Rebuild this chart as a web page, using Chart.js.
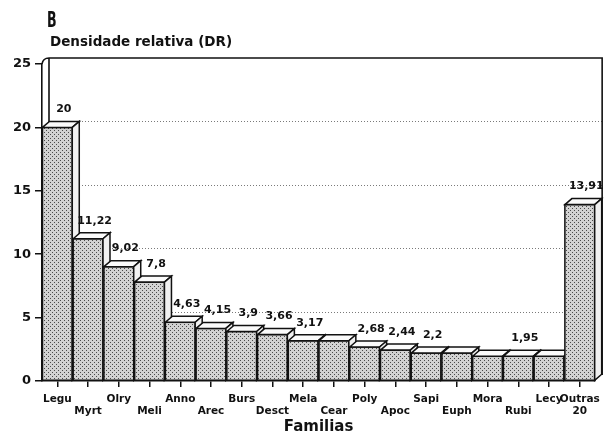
<!DOCTYPE html>
<html><head><meta charset="utf-8">
<script src="https://cdn.jsdelivr.net/npm/chart.js@4"></script>
<style>html,body{margin:0;padding:0;background:#fff}#c{display:block}</style>
</head><body>
<canvas id="c" width="606" height="439"></canvas>
<script>
const categories = ['Legu','Myrt','Olry','Meli','Anno','Arec','Burs','Desct','Mela','Cear','Poly','Apoc','Sapi','Euph','Mora','Rubi','Lecy','Outras 20'];
const tickLabels = [['Legu',''],['','Myrt'],['Olry',''],['','Meli'],['Anno',''],['','Arec'],['Burs',''],['','Desct'],['Mela',''],['','Cear'],['Poly',''],['','Apoc'],['Sapi',''],['','Euph'],['Mora',''],['','Rubi'],['Lecy',''],['Outras','20']];
const values = [20,11.22,9.02,7.8,4.63,4.15,3.9,3.66,3.17,3.17,2.68,2.44,2.2,2.2,1.95,1.95,1.95,13.91];
const valueLabels = ['20','11,22','9,02','7,8','4,63','4,15','3,9','3,66','3,17','','2,68','2,44','2,2','','','1,95','','13,91'];
const yMin = 0, yMax = 25, yStep = 5;
const gridValues = [5,10,15,20];
const titleText = 'B';
const subtitleText = 'Densidade relativa (DR)';
const xTitle = 'Familias';

const DX = 7, DY = 6;
const canvas = document.getElementById('c');
const ctx0 = canvas.getContext('2d');
const pc = document.createElement('canvas'); pc.width = 4; pc.height = 4;
const pg = pc.getContext('2d');
pg.fillStyle = '#d2d2d2'; pg.fillRect(0,0,4,4);
pg.fillStyle = '#4a4a4a'; pg.fillRect(0,0,1,1); pg.fillRect(2,2,1,1);
const pattern = ctx0.createPattern(pc, 'repeat');

const bar3d = {
  id: 'bar3d',
  beforeDatasetsDraw(chart) {
    const ctx = chart.ctx, a = chart.chartArea, ys = chart.scales.y;
    ctx.save();
    ctx.strokeStyle = '#7a7a7a'; ctx.lineWidth = 1; ctx.setLineDash([1,2]);
    gridValues.forEach(v => {
      const yy = Math.round(ys.getPixelForValue(v) - DY) + 0.5;
      ctx.beginPath(); ctx.moveTo(a.left + DX, yy); ctx.lineTo(a.right + DX, yy); ctx.stroke();
    });
    ctx.setLineDash([]);
    const yTop = ys.getPixelForValue(yMax), yBot = ys.getPixelForValue(yMin);
    ctx.strokeStyle = '#111'; ctx.lineWidth = 1.6;
    ctx.beginPath();
    ctx.moveTo(a.left, yTop);
    ctx.quadraticCurveTo(a.left + 1, yTop - DY, a.left + DX, yTop - DY);
    ctx.lineTo(a.right + DX, yTop - DY);
    ctx.lineTo(a.right + DX, yBot - DY);
    ctx.moveTo(a.left + DX, yTop - DY);
    ctx.lineTo(a.left + DX, yBot - DY);
    ctx.stroke();
    ctx.restore();
  },
  afterDatasetsDraw(chart) {
    const ctx = chart.ctx;
    const meta = chart.getDatasetMeta(0);
    ctx.save();
    ctx.lineJoin = 'miter';
    ctx.strokeStyle = '#111'; ctx.lineWidth = 1.5;
    meta.data.forEach((el, i) => {
      const p = el.getProps(['x','y','base','width'], true);
      const l = p.x - p.width/2, r = p.x + p.width/2, t = p.y, b = p.base;
      ctx.fillStyle = pattern;
      ctx.fillRect(l, t, r - l, b - t);
      ctx.strokeRect(l, t, r - l, b - t);
      ctx.fillStyle = '#fafafa';
      ctx.beginPath(); ctx.moveTo(l, t); ctx.lineTo(l + DX, t - DY); ctx.lineTo(r + DX, t - DY); ctx.lineTo(r, t); ctx.closePath();
      ctx.fill(); ctx.stroke();
      ctx.fillStyle = '#f0f0f0';
      ctx.beginPath(); ctx.moveTo(r, t); ctx.lineTo(r + DX, t - DY); ctx.lineTo(r + DX, b - DY); ctx.lineTo(r, b); ctx.closePath();
      ctx.fill(); ctx.stroke();
    });
    ctx.fillStyle = '#111';
    ctx.font = 'bold 11px "DejaVu Sans"';
    ctx.textAlign = 'center'; ctx.textBaseline = 'middle';
    meta.data.forEach((el, i) => {
      if (!valueLabels[i]) return;
      const p = el.getProps(['x','y'], true);
      ctx.fillText(valueLabels[i], p.x + DX/2 + 3, p.y - 18);
    });
    ctx.restore();
  },
  afterDraw(chart) {
    const ctx = chart.ctx, a = chart.chartArea;
    ctx.save();
    ctx.fillStyle = '#111';
    ctx.textBaseline = 'alphabetic'; ctx.textAlign = 'left';
    ctx.save();
    ctx.translate(a.left + 5, 27);
    ctx.scale(0.6, 1);
    ctx.font = 'bold 21px "DejaVu Sans"';
    ctx.fillText(titleText, 0, 0);
    ctx.restore();
    ctx.font = 'bold 13.5px "DejaVu Sans"';
    ctx.textBaseline = 'middle';
    ctx.fillText(subtitleText, a.left + 8, 42);
    ctx.restore();
  }
};

new Chart(canvas, {
  type: 'bar',
  data: {
    labels: tickLabels,
    datasets: [{
      data: values,
      backgroundColor: 'rgba(0,0,0,0)',
      borderWidth: 0,
      barPercentage: 0.97,
      categoryPercentage: 1.0
    }]
  },
  options: {
    responsive: false,
    animation: false,
    devicePixelRatio: 1,
    layout: { padding: { top: 64, right: 9, left: 0, bottom: 0 } },
    plugins: { legend: { display: false }, tooltip: { enabled: false }, title: { display: false } },
    scales: {
      x: {
        offset: true,
        grid: { display: true, drawOnChartArea: false, drawTicks: true, tickLength: 6, offset: false, color: '#111', lineWidth: 1.5 },
        border: { display: true, color: '#111', width: 1.6 },
        ticks: { color: '#111', autoSkip: false, maxRotation: 0, minRotation: 0, padding: 6,
          font: { family: '"DejaVu Sans"', weight: 'bold', size: 10.5, lineHeight: 1.15 } },
        title: { display: true, text: xTitle, color: '#111', padding: { top: 0, bottom: 3 },
          font: { family: '"DejaVu Sans"', weight: 'bold', size: 15 } },
        afterFit(scale) { scale.height = 58; }
      },
      y: {
        min: yMin, max: yMax,
        grid: { display: true, drawOnChartArea: false, drawTicks: true, tickLength: 7, color: '#111', lineWidth: 1.5 },
        border: { display: true, color: '#111', width: 1.6 },
        ticks: { stepSize: yStep, color: '#111', padding: 4,
          font: { family: '"DejaVu Sans"', weight: 'bold', size: 13 } },
        afterFit(scale) { scale.width = 42; }
      }
    }
  },
  plugins: [bar3d]
});
</script>
</body></html>
